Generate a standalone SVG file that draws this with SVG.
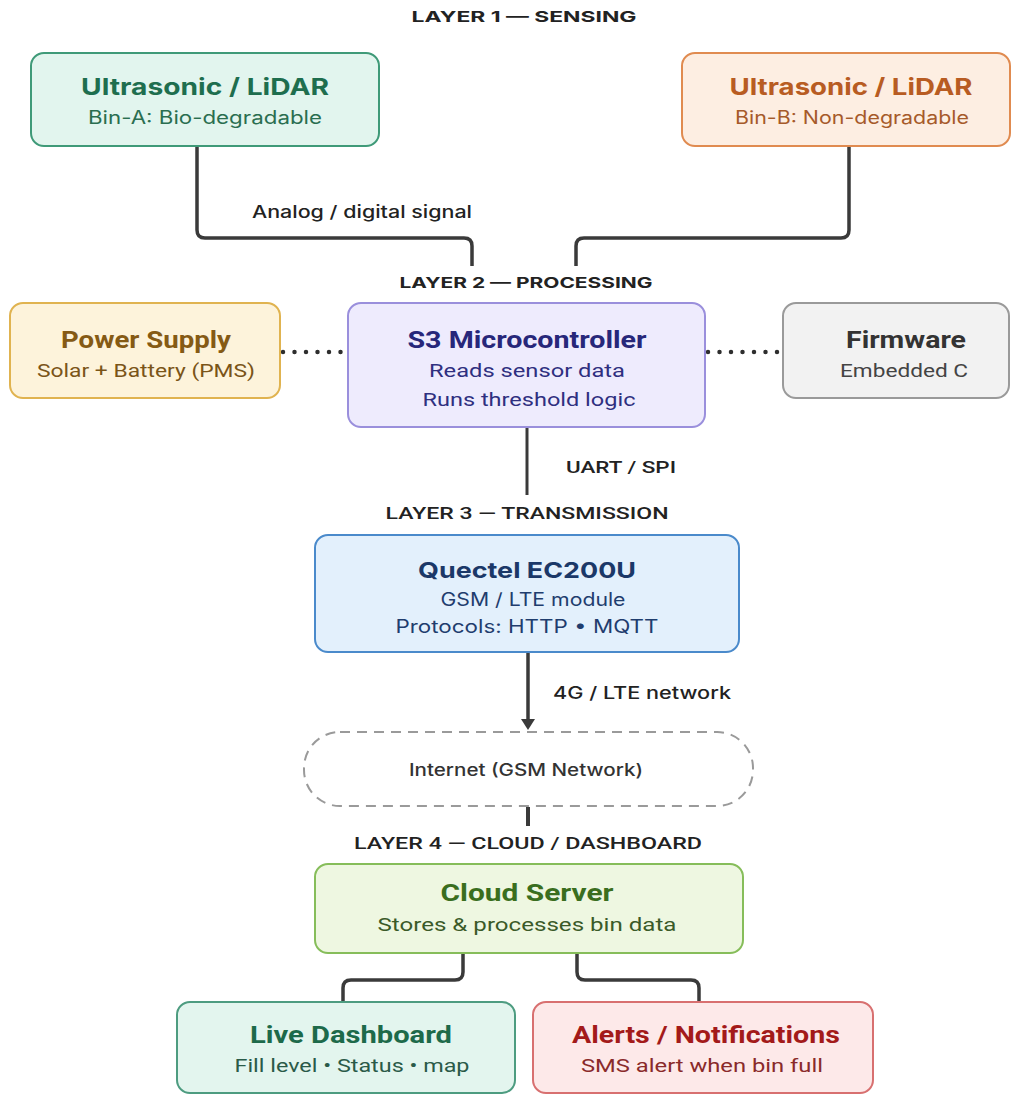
<svg xmlns="http://www.w3.org/2000/svg" width="1013" height="1095" viewBox="0 0 1013 1095">
  <defs>
    <marker id="arrow" viewBox="0 0 11 14" refX="1" refY="7" markerWidth="11" markerHeight="14" markerUnits="userSpaceOnUse" orient="auto">
      <path d="M0,0 L11,7 L0,14 Z" fill="#3a3a3a"/>
    </marker>
  </defs>
  <style>
    text { text-anchor: middle; }
    .wide { font-family: Inter, "DejaVu Sans", "Liberation Sans", sans-serif; }
    .narrow { font-family: Roboto, "Liberation Sans", sans-serif; }
    .layer { font-size: 15px; font-weight: 700; fill: #222; }
    .layerN { font-size: 17px; font-weight: 500; fill: #222; }
    .title { font-size: 23px; font-weight: 700; }
    .sub { font-size: 18px; font-weight: 400; }
    .lbl { font-size: 17px; font-weight: 500; fill: #222; }
    .box { stroke-width: 2; }
    .conn { fill: none; stroke: #3a3a3a; stroke-width: 3.5; stroke-linecap: butt; }
    .dots { fill: none; stroke: #2e2e2e; stroke-width: 4.5; stroke-linecap: round; stroke-dasharray: 0 11.5; }
  </style>
  <rect width="1013" height="1095" fill="#ffffff"/>

  <!-- layer labels -->
  <text class="wide layer" x="524" y="22" textLength="225" lengthAdjust="spacingAndGlyphs">LAYER 1 — SENSING</text>
  <text class="wide layer" x="526" y="288" textLength="253" lengthAdjust="spacingAndGlyphs">LAYER 2 — PROCESSING</text>
  <text class="narrow layerN" x="527" y="519" textLength="283" lengthAdjust="spacingAndGlyphs">LAYER 3 — TRANSMISSION</text>
  <text class="narrow layerN" x="528" y="849" textLength="348" lengthAdjust="spacingAndGlyphs">LAYER 4 — CLOUD / DASHBOARD</text>

  <!-- connectors -->
  <g id="connectors">
    <path class="conn" d="M197,146 V230 Q197,238 205,238 H464 Q472,238 472,246 V266"/>
    <path class="conn" d="M849,146 V230 Q849,238 841,238 H584 Q576,238 576,246 V266"/>
    <path class="dots" d="M283,352 H343"/>
    <path class="dots" d="M708,352 H778"/>
    <path class="conn" style="stroke-width:3" d="M527,427 V495"/>
    <path class="conn" d="M528,652 V720" marker-end="url(#arrow)"/>
    <path class="conn" style="stroke-width:4" d="M528,807 V826"/>
    <path class="conn" d="M463,953 V972 Q463,980 455,980 H351 Q343,980 343,988 V1002"/>
    <path class="conn" d="M577,953 V972 Q577,980 585,980 H691 Q699,980 699,988 V1002"/>
    <text class="wide lbl" x="362" y="218" textLength="220" lengthAdjust="spacingAndGlyphs">Analog / digital signal</text>
    <text class="narrow lbl" x="621" y="473" textLength="110" lengthAdjust="spacingAndGlyphs">UART / SPI</text>
    <text class="wide lbl" x="642" y="699" textLength="178" lengthAdjust="spacingAndGlyphs">4G / LTE network</text>
  </g>

  <g id="bin-a">
    <rect class="box" x="31" y="53" width="348" height="93" rx="13" fill="#e2f5ee" stroke="#3f9a78"/>
    <text class="wide title" x="205" y="95" fill="#1e6e4e" textLength="248" lengthAdjust="spacingAndGlyphs">Ultrasonic / LiDAR</text>
    <text class="wide sub" x="205" y="124" fill="#2a6e50" textLength="234" lengthAdjust="spacingAndGlyphs">Bin-A: Bio-degradable</text>
  </g>

  <g id="bin-b">
    <rect class="box" x="682" y="53" width="328" height="93" rx="13" fill="#fdeee2" stroke="#e08b50"/>
    <text class="wide title" x="851" y="95" fill="#b85c22" textLength="243" lengthAdjust="spacingAndGlyphs">Ultrasonic / LiDAR</text>
    <text class="wide sub" x="852" y="124" fill="#a65a2a" textLength="234" lengthAdjust="spacingAndGlyphs">Bin-B: Non-degradable</text>
  </g>

  <g id="power-supply">
    <rect class="box" x="10" y="303" width="270" height="95" rx="13" fill="#fdf3db" stroke="#e0b350"/>
    <text class="narrow title" x="146" y="348" fill="#855a14" textLength="170" lengthAdjust="spacingAndGlyphs">Power Supply</text>
    <text class="narrow sub" x="146" y="377" fill="#7a5418" textLength="218" lengthAdjust="spacingAndGlyphs">Solar + Battery (PMS)</text>
  </g>

  <g id="s3-microcontroller">
    <rect class="box" x="348" y="303" width="357" height="124" rx="13" fill="#eeebfd" stroke="#9a8fdc"/>
    <text class="narrow title" x="527" y="348" fill="#27277a" textLength="239" lengthAdjust="spacingAndGlyphs">S3 Microcontroller</text>
    <text class="narrow sub" x="527" y="377" fill="#2f2f80" textLength="196" lengthAdjust="spacingAndGlyphs">Reads sensor data</text>
    <text class="narrow sub" x="529" y="406" fill="#2f2f80" textLength="213" lengthAdjust="spacingAndGlyphs">Runs threshold logic</text>
  </g>

  <g id="firmware">
    <rect class="box" x="783" y="303" width="226" height="95" rx="13" fill="#f2f2f2" stroke="#9a9a9a"/>
    <text class="narrow title" x="906" y="348" fill="#333333" textLength="120" lengthAdjust="spacingAndGlyphs">Firmware</text>
    <text class="narrow sub" x="904" y="377" fill="#444444" textLength="128" lengthAdjust="spacingAndGlyphs">Embedded C</text>
  </g>

  <g id="quectel">
    <rect class="box" x="315" y="535" width="424" height="117" rx="13" fill="#e3f0fc" stroke="#4a8acb"/>
    <text class="wide title" style="font-size:22px" x="527" y="578" fill="#1b3868" textLength="218" lengthAdjust="spacingAndGlyphs">Quectel EC200U</text>
    <text class="wide sub" x="533" y="606" fill="#1f3d6e" textLength="185" lengthAdjust="spacingAndGlyphs">GSM / LTE module</text>
    <text class="wide sub" x="527" y="633" fill="#1f3d6e" textLength="263" lengthAdjust="spacingAndGlyphs">Protocols: HTTP • MQTT</text>
  </g>

  <g id="internet">
    <rect x="304" y="732" width="449" height="74" rx="36" fill="#ffffff" stroke="#9a9a9a" stroke-width="2" stroke-dasharray="10 7"/>
    <text class="wide" style="font-size:17px;font-weight:500" x="526" y="776" fill="#333333" textLength="234" lengthAdjust="spacingAndGlyphs">Internet (GSM Network)</text>
  </g>

  <g id="cloud-server">
    <rect class="box" x="315" y="864" width="428" height="89" rx="13" fill="#eef7e1" stroke="#86bd5a"/>
    <text class="narrow title" x="527" y="901" fill="#3a6e1e" textLength="173" lengthAdjust="spacingAndGlyphs">Cloud Server</text>
    <text class="narrow sub" style="font-size:19px" x="527" y="931" fill="#3a5a28" textLength="299" lengthAdjust="spacingAndGlyphs">Stores &amp; processes bin data</text>
  </g>

  <g id="live-dashboard">
    <rect class="box" x="177" y="1002" width="338" height="91" rx="13" fill="#e3f5ee" stroke="#4d9c80"/>
    <text class="narrow title" x="351" y="1043" fill="#1d6a4a" textLength="202" lengthAdjust="spacingAndGlyphs">Live Dashboard</text>
    <text class="narrow sub" style="font-size:19px" x="352" y="1072" fill="#2a5a48" textLength="235" lengthAdjust="spacingAndGlyphs">Fill level • Status • map</text>
  </g>

  <g id="alerts">
    <rect class="box" x="533" y="1002" width="340" height="91" rx="13" fill="#fde9e9" stroke="#d87070"/>
    <text class="narrow title" x="706" y="1043" fill="#a31a1a" textLength="268" lengthAdjust="spacingAndGlyphs">Alerts / Notifications</text>
    <text class="narrow sub" style="font-size:19px" x="702" y="1072" fill="#8a2a2a" textLength="242" lengthAdjust="spacingAndGlyphs">SMS alert when bin full</text>
  </g>
</svg>
